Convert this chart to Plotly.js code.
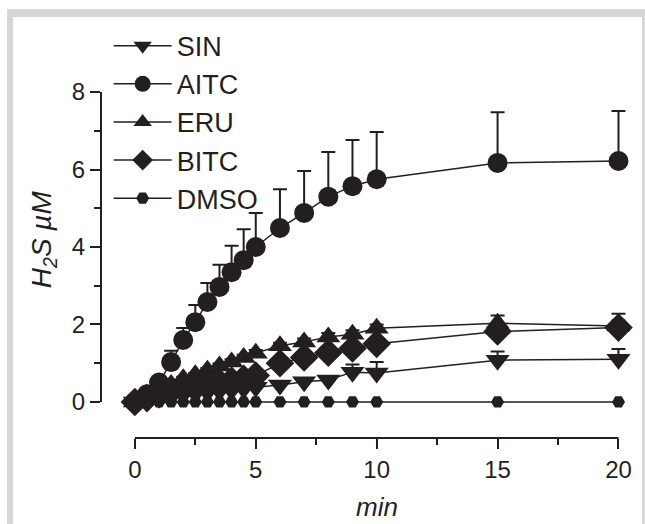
<!DOCTYPE html>
<html>
<head>
<meta charset="utf-8">
<script src="https://cdn.plot.ly/plotly-3.0.1.min.js"></script>
<style>
html,body{margin:0;padding:0;background:#ffffff;width:645px;height:524px;overflow:hidden;}
#grayframe{position:absolute;left:7px;top:9px;width:700px;height:600px;background:#d5d6d6;}
#whitebox{position:absolute;left:13px;top:17px;width:629px;height:600px;background:#ffffff;}
#chart{position:absolute;left:0;top:0;width:645px;height:524px;}
</style>
</head>
<body>
<div id="grayframe"></div>
<div id="whitebox"></div>
<div id="chart"></div>
<script>
// time points (min)
const timeMin = [0, 0.5, 1, 1.5, 2, 2.5, 3, 3.5, 4, 4.5, 5, 6, 7, 8, 9, 10, 15, 20];

// H2S (µM) means
const sinVals  = [0, 0.05, 0.1, 0.15, 0.2, 0.22, 0.25, 0.28, 0.3, 0.34, 0.38, 0.44, 0.52, 0.57, 0.77, 0.75, 1.08, 1.1];
const aitcVals = [0, 0.2, 0.5, 1.03, 1.6, 2.06, 2.58, 2.97, 3.35, 3.66, 4.0, 4.49, 4.88, 5.3, 5.57, 5.75, 6.17, 6.22];
const eruVals  = [0, 0.15, 0.3, 0.45, 0.6, 0.7, 0.82, 0.93, 1.03, 1.15, 1.26, 1.45, 1.55, 1.68, 1.75, 1.9, 2.03, 1.96];
const bitcVals = [0, 0.1, 0.2, 0.28, 0.34, 0.4, 0.45, 0.5, 0.55, 0.6, 0.68, 1.0, 1.15, 1.27, 1.38, 1.5, 1.82, 1.92];
const dmsoVals = [0, 0, 0, 0, 0, 0, 0, 0, 0, 0, 0, 0, 0, 0, 0, 0, 0, 0];

// upper error (SEM)
const sinErr  = [0, 0.02, 0.03, 0.04, 0.05, 0.05, 0.06, 0.06, 0.06, 0.07, 0.07, 0.08, 0.08, 0.1, 0.2, 0.28, 0.22, 0.27];
const aitcErr = [0, 0.05, 0.12, 0.29, 0.31, 0.44, 0.49, 0.57, 0.68, 0.8, 0.88, 1.0, 1.08, 1.15, 1.19, 1.22, 1.31, 1.29];
const eruErr  = [0, 0.02, 0.03, 0.04, 0.05, 0.05, 0.06, 0.06, 0.07, 0.07, 0.08, 0.08, 0.09, 0.1, 0.1, 0.1, 0.2, 0.32];
const bitcErr = [0, 0.02, 0.03, 0.04, 0.05, 0.05, 0.05, 0.06, 0.06, 0.06, 0.07, 0.08, 0.08, 0.09, 0.09, 0.1, 0.15, 0.18];

const seriesNames = ['SIN', 'AITC', 'ERU', 'BITC', 'DMSO'];
const xTicks = [0, 5, 10, 15, 20];
const xMinor = [2.5, 7.5, 12.5, 17.5];
const yTicks = [0, 2, 4, 6, 8];
const yMinor = [1, 3, 5, 7];

const ink = '#231f20';
const font = 'Liberation Sans, Arial, sans-serif';

function tr(name, y, err, symbol, size) {
  const t = {
    type: 'scatter', mode: 'lines+markers', name: name,
    x: timeMin, y: y, cliponaxis: false,
    line: {color: ink, width: 1.5},
    marker: {symbol: symbol, size: size, color: ink, line: {width: 0}}
  };
  if (err) {
    t.error_y = {type: 'data', symmetric: false, array: err, arrayminus: err.map(() => 0),
                 color: ink, thickness: 2, width: 7};
  }
  return t;
}

const data = [
  tr(seriesNames[0], sinVals, sinErr, 'triangle-down', 21),
  tr(seriesNames[1], aitcVals, aitcErr, 'circle', 20),
  tr(seriesNames[2], eruVals, eruErr, 'triangle-up', 21),
  tr(seriesNames[3], bitcVals, bitcErr, 'diamond', 22),
  tr(seriesNames[4], dmsoVals, null, 'hexagon2', 13)
];

const layout = {
  width: 645, height: 524,
  paper_bgcolor: 'rgba(0,0,0,0)', plot_bgcolor: 'rgba(0,0,0,0)',
  margin: {l: 101, r: 12, t: 25, b: 86},
  font: {family: font, color: ink, size: 24},
  showlegend: true,
  legend: {x: 0.0144, y: 1.008, xanchor: 'left', yanchor: 'top', bgcolor: 'rgba(0,0,0,0)',
           font: {size: 27, family: font, color: ink}, itemwidth: 58, tracegroupgap: 0},
  xaxis: {
    range: [-1.4, 20.6], showline: false, zeroline: false, showgrid: false,
    tickmode: 'array', tickvals: xTicks, ticktext: xTicks.map(String),
    ticks: 'outside', ticklen: 10, tickwidth: 2, tickcolor: ink,
    tickfont: {size: 24, family: font, color: ink},
    minor: {tickmode: 'array', tickvals: xMinor, ticks: 'outside', ticklen: 6, tickwidth: 2, tickcolor: ink, showgrid: false}
  },
  yaxis: {
    range: [-0.93, 9.73], showline: false, zeroline: false, showgrid: false,
    tickmode: 'array', tickvals: yTicks, ticktext: yTicks.map(String),
    ticks: 'outside', ticklen: 10, tickwidth: 2, tickcolor: ink,
    tickfont: {size: 24, family: font, color: ink},
    minor: {tickmode: 'array', tickvals: yMinor, ticks: 'outside', ticklen: 6, tickwidth: 2, tickcolor: ink, showgrid: false}
  },
  shapes: [
    {type: 'line', xref: 'x', yref: 'paper', x0: 0, x1: 20, y0: 0, y1: 0, line: {color: ink, width: 2}},
    {type: 'line', xref: 'paper', yref: 'y', x0: 0, x1: 0, y0: 0, y1: 8, line: {color: ink, width: 2}}
  ],
  annotations: [
    {text: '<i>H<sub>2</sub>S µM</i>', xref: 'paper', yref: 'y', x: -0.109, y: 4.2,
     textangle: -90, showarrow: false, xanchor: 'center', yanchor: 'middle',
     font: {size: 28, family: font, color: ink}},
    {text: '<i>min</i>', xref: 'x', yref: 'paper', x: 10, y: -0.167,
     showarrow: false, xanchor: 'center', yanchor: 'middle',
     font: {size: 26, family: font, color: ink}}
  ]
};

Plotly.newPlot('chart', data, layout, {displayModeBar: false, staticPlot: true});
</script>
</body>
</html>
